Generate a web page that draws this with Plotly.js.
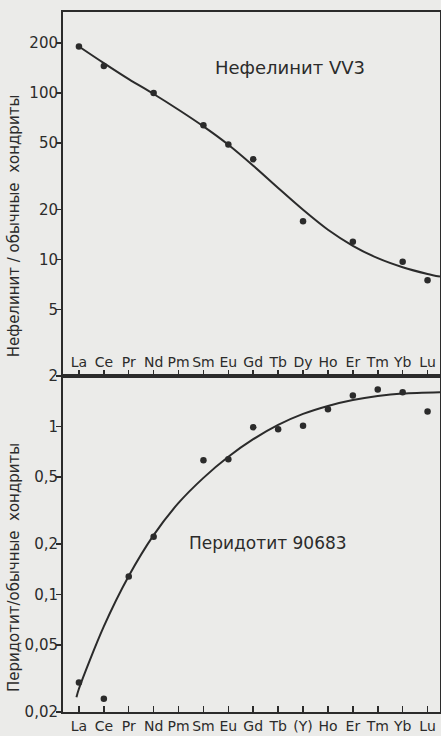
<!DOCTYPE html>
<html><head><meta charset="utf-8">
<script src="https://cdn.plot.ly/plotly-3.0.1.min.js"></script>
<style>html,body{margin:0;padding:0;background:#ebebe9;}</style>
</head><body><div id="chart" style="width:441px;height:736px;"></div>
<script>
const reeTop = ["La","Ce","Pr","Nd","Pm","Sm","Eu","Gd","Tb","Dy","Ho","Er","Tm","Yb","Lu"];
const reeBottom = ["La","Ce","Pr","Nd","Pm","Sm","Eu","Gd","Tb","(Y)","Ho","Er","Tm","Yb","Lu"];
const reeIndex = [0,1,2,3,4,5,6,7,8,9,10,11,12,13,14];

// Nephelinite VV3 (sample / chondrite)
const nephPointX = [0,1,3,5,6,7,9,11,13,14];
const nephPointY = [190,145,100,64,49,40,17,12.8,9.7,7.5];
const nephCurveX = [0,1,2,3,4,5,6,7,8,9,10,11,12,13,14,14.5];
const nephCurveY = [190,151,121,98.6,79.3,63,48.9,36.6,26.9,19.9,15.1,12.1,10.2,9.0,8.2,7.9];

// Peridotite 90683 (sample / chondrite)
const peridPointX = [0,1,2,3,5,6,7,8,9,10,11,12,13,14];
const peridPointY = [0.030,0.024,0.128,0.221,0.63,0.64,0.99,0.965,1.01,1.27,1.53,1.66,1.60,1.23];
const peridCurveX = [-0.1,0,1,2,3,4,5,6,7,8,9,10,11,12,13,14.5];
const peridCurveY = [0.0245,0.0275,0.0646,0.129,0.226,0.351,0.495,0.661,0.841,1.023,1.189,1.327,1.439,1.52,1.574,1.603];

const topTickVals = [5,10,20,50,100,200];
const topTickText = ["5","10","20","50","100","200"];
const botTickVals = [0.02,0.05,0.1,0.2,0.5,1,2];
const botTickText = ["0,02","0,05","0,1","0,2","0,5","1","2"];

const ink = "#2b2b2b";
const bg = "#ebebe9";
const fnt = "DejaVu Sans, sans-serif";

const traces = [
  {x: nephCurveX, y: nephCurveY, xaxis:"x", yaxis:"y", mode:"lines",
   line:{color:ink, width:2, shape:"spline", smoothing:0.9}, hoverinfo:"skip"},
  {x: nephPointX, y: nephPointY, xaxis:"x", yaxis:"y", mode:"markers",
   marker:{color:ink, size:6.5}},
  {x: peridCurveX, y: peridCurveY, xaxis:"x2", yaxis:"y2", mode:"lines",
   line:{color:ink, width:2, shape:"spline", smoothing:0.9}, hoverinfo:"skip"},
  {x: peridPointX, y: peridPointY, xaxis:"x2", yaxis:"y2", mode:"markers",
   marker:{color:ink, size:6.5}}
];

const xCommon = {range:[-0.64,14.5], tickmode:"array", tickvals: reeIndex, tickangle:0,
  ticks:"inside", ticklen:6, tickwidth:1.5, tickcolor:ink,
  showline:true, linecolor:ink, linewidth:2, mirror:true, showgrid:false, zeroline:false,
  tickfont:{family:fnt, size:14, color:ink}};

const yCommon = {type:"log", tickmode:"array",
  ticks:"outside", ticklen:5, tickwidth:1.5, tickcolor:ink, ticklabelstandoff:-5,
  showline:true, linecolor:ink, linewidth:2, mirror:true, showgrid:false, zeroline:false,
  tickfont:{family:fnt, size:15, color:ink}};

const layout = {
  width:441, height:736,
  margin:{l:63, r:1, t:12, b:24},
  paper_bgcolor:bg, plot_bgcolor:bg,
  showlegend:false,
  xaxis: Object.assign({}, xCommon, {anchor:"y", ticktext: reeTop, ticklabelposition:"inside"}),
  xaxis2: Object.assign({}, xCommon, {anchor:"y2", ticktext: reeBottom}),
  yaxis: Object.assign({}, yCommon, {domain:[0.48,1], range:[Math.log10(2), 2.486],
    tickvals: topTickVals, ticktext: topTickText}),
  yaxis2: Object.assign({}, yCommon, {domain:[0,0.48], range:[Math.log10(0.02), Math.log10(2)],
    tickvals: botTickVals, ticktext: botTickText}),
  annotations: [
    {text:"Нефелинит VV3", xref:"paper", yref:"paper", x:0.602, y:0.921,
     xanchor:"center", yanchor:"middle", showarrow:false,
     font:{family:fnt, size:18, color:ink}},
    {text:"Перидотит 90683", xref:"paper", yref:"paper", x:0.544, y:0.241,
     xanchor:"center", yanchor:"middle", showarrow:false,
     font:{family:fnt, size:17, color:ink}},
    {text:"Нефелинит / обычные  хондриты", xref:"paper", yref:"paper", x:-0.13, y:0.694,
     xanchor:"center", yanchor:"middle",
     textangle:-90, showarrow:false, font:{family:fnt, size:15, color:ink}},
    {text:"Перидотит/обычные  хондриты", xref:"paper", yref:"paper", x:-0.13, y:0.207,
     xanchor:"center", yanchor:"middle",
     textangle:-90, showarrow:false, font:{family:fnt, size:15, color:ink}}
  ]
};

Plotly.newPlot("chart", traces, layout, {displayModeBar:false, staticPlot:true});
</script></body></html>
